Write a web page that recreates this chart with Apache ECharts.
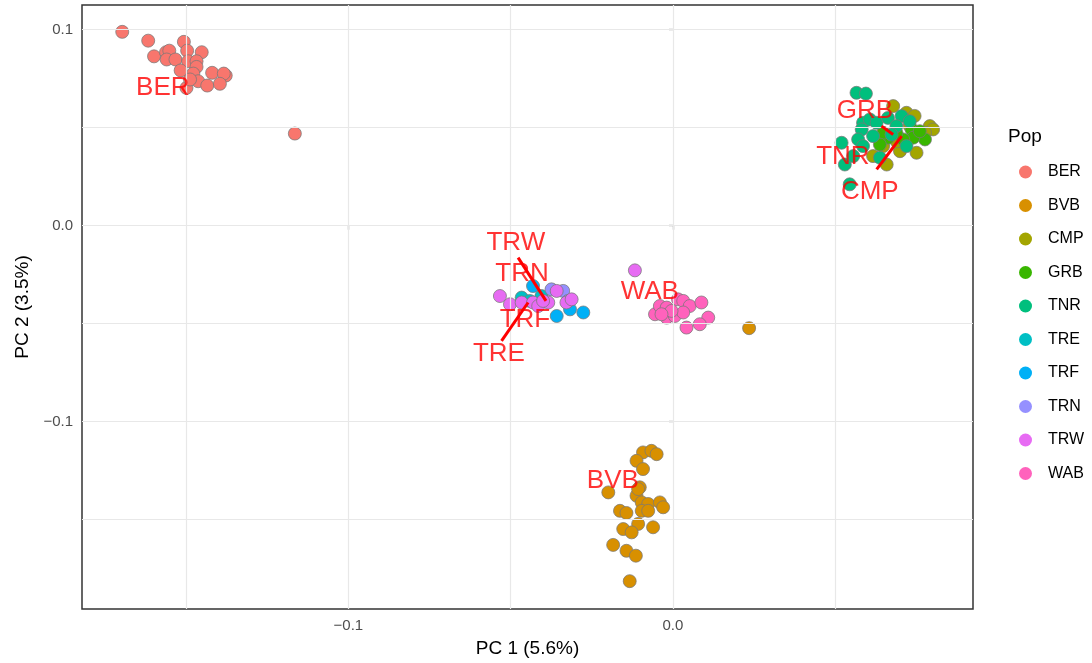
<!DOCTYPE html>
<html>
<head>
<meta charset="utf-8">
<title>PCA</title>
<script src="https://cdn.jsdelivr.net/npm/echarts@6/dist/echarts.min.js"></script>
<style>
  html, body { margin: 0; padding: 0; background: #fff; }
  #chart { width: 1092px; height: 663px; }
</style>
</head>
<body>
<div id="chart"></div>
<script>
// PC1 / PC2 scores per population
const pops = ["BER", "BVB", "CMP", "GRB", "TNR", "TRE", "TRF", "TRN", "TRW", "WAB"];
const popColors = ["#F8766D", "#D89000", "#A3A500", "#39B600", "#00BF7D", "#00BFC4", "#00B0F6", "#9590FF", "#E76BF3", "#FF62BC"];

const ber = [[-0.1697,0.0989],[-0.1617,0.0944],[-0.1507,0.0938],[-0.1599,0.0864],[-0.1562,0.0885],[-0.1552,0.0893],[-0.1497,0.0893],[-0.1452,0.0885],[-0.1560,0.0848],[-0.1533,0.0848],[-0.1494,0.0839],[-0.1468,0.0839],[-0.1468,0.0810],[-0.1517,0.0792],[-0.1478,0.0776],[-0.1420,0.0780],[-0.1378,0.0766],[-0.1384,0.0776],[-0.1463,0.0737],[-0.1435,0.0715],[-0.1396,0.0724],[-0.1499,0.0703],[-0.1488,0.0746],[-0.1165,0.0470]];
const bvb = [[-0.0092,-0.1157],[-0.0066,-0.1149],[-0.0050,-0.1166],[-0.0112,-0.1200],[-0.0092,-0.1242],[-0.0199,-0.1361],[-0.0102,-0.1335],[-0.0112,-0.1378],[-0.0096,-0.1412],[-0.0076,-0.1420],[-0.0040,-0.1412],[-0.0030,-0.1437],[-0.0163,-0.1455],[-0.0143,-0.1466],[-0.0096,-0.1455],[-0.0076,-0.1455],[-0.0107,-0.1522],[-0.0153,-0.1548],[-0.0127,-0.1565],[-0.0061,-0.1539],[-0.0184,-0.1629],[-0.0143,-0.1659],[-0.0114,-0.1684],[-0.0133,-0.1814],[-0.0107,-0.1344],[0.0235,-0.0523]];
const cmp = [[0.0679,0.0610],[0.0720,0.0576],[0.0792,0.0508],[0.0802,0.0491],[0.0777,0.0474],[0.0751,0.0372],[0.0659,0.0312],[0.0700,0.0380],[0.0648,0.0406],[0.0730,0.0508],[0.0617,0.0355],[0.0745,0.0560],[0.0690,0.0430]];
const grb = [[0.0736,0.0491],[0.0777,0.0440],[0.0741,0.0449],[0.0663,0.0449],[0.0648,0.0474],[0.0710,0.0440],[0.0689,0.0474],[0.0638,0.0414],[0.0761,0.0482]];
const tnr = [[0.0566,0.0678],[0.0595,0.0674],[0.0586,0.0525],[0.0607,0.0542],[0.0582,0.0491],[0.0571,0.0440],[0.0520,0.0423],[0.0530,0.0312],[0.0545,0.0211],[0.0628,0.0525],[0.0663,0.0550],[0.0705,0.0559],[0.0730,0.0533],[0.0689,0.0508],[0.0638,0.0347],[0.0586,0.0406],[0.0556,0.0355],[0.0617,0.0457],[0.0720,0.0406],[0.0674,0.0465]];
const tre = [[-0.0466,-0.0367],[-0.0441,-0.0384],[-0.0405,-0.0359]];
const trf = [[-0.0431,-0.0308],[-0.0358,-0.0461],[-0.0276,-0.0443],[-0.0317,-0.0427]];
const trn = [[-0.0374,-0.0325],[-0.0338,-0.0333],[-0.0323,-0.0384]];
const trw = [[-0.0533,-0.0359],[-0.0502,-0.0401],[-0.0466,-0.0392],[-0.0431,-0.0392],[-0.0415,-0.0410],[-0.0384,-0.0392],[-0.0358,-0.0333],[-0.0328,-0.0392],[-0.0312,-0.0376],[-0.0400,-0.0384],[-0.0117,-0.0228]];
const wab = [[-0.0055,-0.0452],[-0.0040,-0.0410],[-0.0019,-0.0418],[-0.0019,-0.0469],[0.0006,-0.0461],[0.0016,-0.0376],[0.0032,-0.0384],[0.0052,-0.0410],[0.0032,-0.0443],[0.0088,-0.0392],[0.0109,-0.0469],[0.0083,-0.0503],[0.0042,-0.0520],[-0.0004,-0.0435],[-0.0035,-0.0452]];
const popData = [ber, bvb, cmp, grb, tnr, tre, trf, trn, trw, wab];

// repelled label positions and their leader segments [start, end]
const labelPos = [[-0.1572,0.0705],[-0.0185,-0.1303],[0.0607,0.0175],[0.0592,0.0588],[0.0524,0.0353],[-0.0536,-0.0656],[-0.0456,-0.0483],[-0.0465,-0.0248],[-0.0484,-0.0090],[-0.0071,-0.0340]];
const segments = [
  [[0.0643,0.0508],[0.0679,0.0465]],
  [[0.0628,0.0287],[0.0705,0.0457]],
  [[-0.0477,-0.0163],[-0.0391,-0.0384]],
  [[-0.0528,-0.0588],[-0.0446,-0.0392]]
];

// axis ticks and grid breaks
const xTicks = [-0.1, 0.0];
const xMinor = [-0.15, -0.05, 0.05];
const yTicks = [-0.1, 0.0, 0.1];
const yMinor = [-0.15, -0.05, 0.05];
const xRange = [-0.1821, 0.0925];
const yRange = [-0.1956, 0.1126];

const fmt = v => (v < -1e-9 ? "\u2212" : "") + Math.abs(v).toFixed(1);
const font = "Liberation Sans, Arial, sans-serif";

const chart = echarts.init(document.getElementById("chart"));

const gridLines = [];
xTicks.concat(xMinor).forEach(v => gridLines.push({ xAxis: v }));
yTicks.concat(yMinor).forEach(v => gridLines.push({ yAxis: v }));

const series = [{
  type: "scatter",
  name: "grid",
  data: [],
  silent: true,
  z: 0,
  markLine: {
    silent: true,
    symbol: ["none", "none"],
    label: { show: false },
    lineStyle: { color: "#e8e8e8", width: 1.2, type: "solid" },
    emphasis: { disabled: true },
    animation: false,
    data: gridLines
  }
}];

pops.forEach((p, i) => {
  series.push({
    type: "scatter",
    name: p,
    data: popData[i],
    symbolSize: 13,
    itemStyle: { color: popColors[i], borderColor: "rgba(120,120,120,0.75)", borderWidth: 1, opacity: 1 },
    z: 2
  });
});

series.push({
  type: "scatter",
  name: "labels",
  symbolSize: 1,
  itemStyle: { color: "rgba(0,0,0,0)" },
  z: 5,
  data: pops.map((p, i) => ({ name: p, value: labelPos[i] })),
  label: {
    show: true,
    position: "inside",
    formatter: "{b}",
    color: "#ff0000",
    fontSize: 26,
    fontFamily: font
  },
  markLine: {
    silent: true,
    symbol: ["none", "none"],
    label: { show: false },
    lineStyle: { color: "#ff0000", width: 3, type: "solid" },
    animation: false,
    data: segments.map(s => [{ coord: s[0] }, { coord: s[1] }])
  }
});

const option = {
  animation: false,
  backgroundColor: "#ffffff",
  textStyle: { fontFamily: font },
  title: {
    text: "Pop",
    left: 1003,
    top: 122,
    textStyle: { fontSize: 19, fontWeight: "normal", color: "#000", fontFamily: font }
  },
  legend: {
    data: pops,
    orient: "vertical",
    left: 1014,
    top: 159,
    icon: "circle",
    itemWidth: 13,
    itemHeight: 13,
    itemGap: 17.5,
    itemStyle: { borderWidth: 0 },
    textStyle: { fontSize: 16, color: "#000", lineHeight: 14, padding: [0, 0, 0, 11], fontFamily: font }
  },
  grid: {
    left: 82, right: 119, top: 5, bottom: 53,
    show: true,
    borderColor: "#333",
    borderWidth: 1.5,
    backgroundColor: "#fff"
  },
  xAxis: {
    type: "value",
    min: xRange[0],
    max: xRange[1],
    name: "PC 1 (5.6%)",
    nameLocation: "middle",
    nameGap: 30,
    nameTextStyle: { fontSize: 19, color: "#000", fontFamily: font },
    axisLine: { show: false },
    splitLine: { show: false },
    axisTick: { show: true, length: 4, lineStyle: { color: "#333", width: 1.2 }, customValues: xTicks },
    axisLabel: { customValues: xTicks, formatter: fmt, fontSize: 15, color: "#4d4d4d", margin: 9 }
  },
  yAxis: {
    type: "value",
    min: yRange[0],
    max: yRange[1],
    name: "PC 2 (3.5%)",
    nameLocation: "middle",
    nameGap: 50,
    nameTextStyle: { fontSize: 19, color: "#000", fontFamily: font },
    axisLine: { show: false },
    splitLine: { show: false },
    axisTick: { show: true, length: 4, lineStyle: { color: "#333", width: 1.2 }, customValues: yTicks },
    axisLabel: { customValues: yTicks, formatter: fmt, fontSize: 15, color: "#4d4d4d", margin: 9 }
  },
  series: series
};

chart.setOption(option);
</script>
</body>
</html>
